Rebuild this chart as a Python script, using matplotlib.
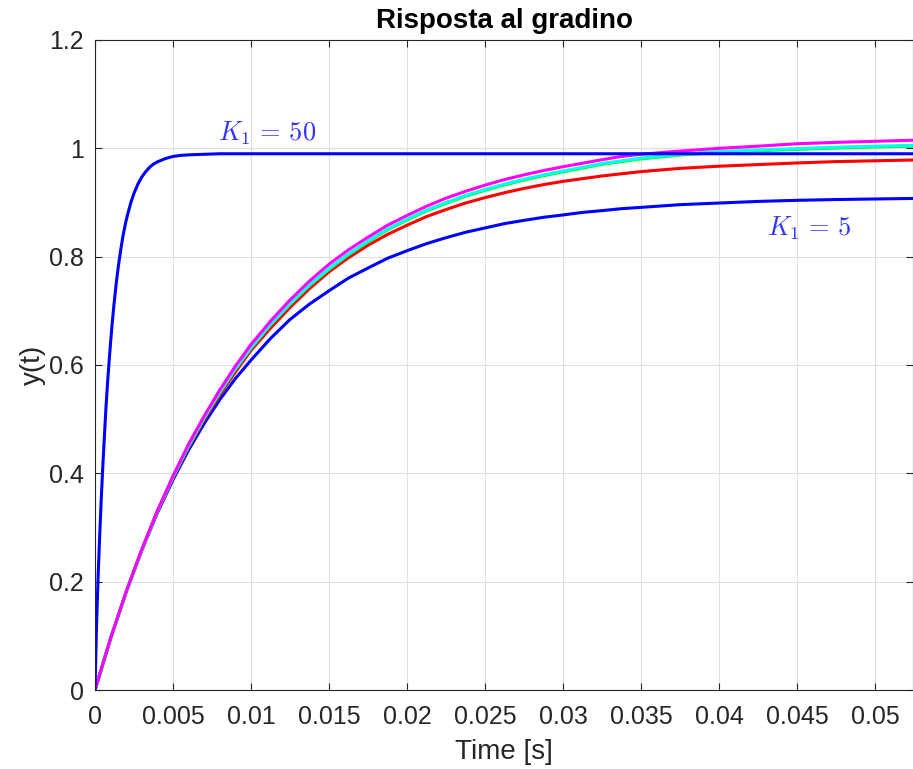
import matplotlib
matplotlib.use("Agg")
import matplotlib.pyplot as plt

# tempi di campionamento
t_slow = [0, 0.001, 0.002, 0.003, 0.004, 0.005, 0.006, 0.007, 0.008, 0.009, 0.010,
          0.01125, 0.0125, 0.01375, 0.015, 0.01625, 0.0175, 0.01875, 0.020, 0.02125,
          0.0225, 0.02375, 0.025, 0.02625, 0.0275, 0.02875, 0.030, 0.03125, 0.0325,
          0.03375, 0.035, 0.0375, 0.040, 0.0425, 0.045, 0.0475, 0.050, 0.0525]

y_k5 = [0, 0.096, 0.181, 0.258, 0.327, 0.388, 0.443, 0.492, 0.536, 0.575, 0.609,
        0.649, 0.684, 0.7125, 0.737, 0.7605, 0.779, 0.797, 0.811, 0.824,
        0.835, 0.845, 0.853, 0.861, 0.867, 0.8727, 0.877, 0.8817, 0.885,
        0.8886, 0.891, 0.896, 0.899, 0.902, 0.904, 0.9055, 0.9065, 0.9075]

y_red = [0, 0.095, 0.181, 0.258, 0.329, 0.391, 0.448, 0.499, 0.545, 0.587, 0.627,
         0.668, 0.706, 0.741, 0.772, 0.798, 0.821, 0.841, 0.858, 0.874,
         0.887, 0.899, 0.909, 0.918, 0.926, 0.933, 0.939, 0.944, 0.949,
         0.953, 0.957, 0.963, 0.967, 0.970, 0.973, 0.9755, 0.977, 0.9785]

y_green = [0, 0.095, 0.181, 0.259, 0.330, 0.393, 0.450, 0.502, 0.549, 0.592, 0.631,
           0.674, 0.712, 0.7465, 0.7765, 0.8035, 0.8275, 0.8495, 0.8675, 0.8845,
           0.8985, 0.9115, 0.9225, 0.9325, 0.9415, 0.9495, 0.9565, 0.9635, 0.9705,
           0.9755, 0.9805, 0.9875, 0.9925, 0.9955, 0.998, 1.0005, 1.0025, 1.004]

y_cyan = [0, 0.095, 0.181, 0.259, 0.330, 0.393, 0.451, 0.503, 0.550, 0.593, 0.632,
          0.675, 0.713, 0.748, 0.778, 0.805, 0.829, 0.851, 0.869, 0.886,
          0.900, 0.913, 0.924, 0.934, 0.943, 0.951, 0.958, 0.965, 0.972,
          0.977, 0.982, 0.989, 0.994, 0.997, 0.9995, 1.002, 1.004, 1.0055]

y_mag = [0, 0.0952, 0.1815, 0.260, 0.331, 0.395, 0.454, 0.506, 0.554, 0.598, 0.638,
         0.681, 0.720, 0.755, 0.786, 0.8126, 0.836, 0.858, 0.876, 0.893,
         0.908, 0.9206, 0.932, 0.9423, 0.951, 0.959, 0.966, 0.9725, 0.979,
         0.985, 0.989, 0.995, 1.000, 1.004, 1.0085, 1.011, 1.013, 1.015]

t_fast = [0, 0.0001, 0.0002, 0.0003, 0.0004, 0.0005, 0.0006, 0.0007, 0.0008, 0.0009,
          0.001, 0.0011, 0.0012, 0.00135, 0.0015, 0.00165, 0.0018, 0.00195, 0.0021,
          0.0023, 0.0025, 0.00275, 0.003, 0.00325, 0.0035, 0.00375, 0.004, 0.0045,
          0.005, 0.0055, 0.006, 0.007, 0.008, 0.010, 0.0525]
y_k50 = [0, 0.12, 0.21, 0.285, 0.352, 0.413, 0.467, 0.520, 0.565, 0.605,
         0.642, 0.676, 0.707, 0.748, 0.783, 0.813, 0.839, 0.861, 0.879,
         0.900, 0.917, 0.934, 0.947, 0.957, 0.965, 0.971, 0.975, 0.981,
         0.985, 0.987, 0.988, 0.989, 0.990, 0.990, 0.990]

xticks = [0, 0.005, 0.01, 0.015, 0.02, 0.025, 0.03, 0.035, 0.04, 0.045, 0.05]
xtick_labels = ["0", "0.005", "0.01", "0.015", "0.02", "0.025", "0.03", "0.035", "0.04", "0.045", "0.05"]
yticks = [0, 0.2, 0.4, 0.6, 0.8, 1.0, 1.2]
ytick_labels = ["0", "0.2", "0.4", "0.6", "0.8", "1", "1.2"]

plt.rcParams['font.family'] = ['Liberation Sans', 'DejaVu Sans']
plt.rcParams['mathtext.fontset'] = 'cm'

dark = '#262626'
fig = plt.figure(figsize=(9.13, 7.69), dpi=100)
ax = fig.add_axes([95/913, 79/769, 818/913, 650/769])

lw = 2.2
ax.plot(t_slow, y_k5, color=(0, 0, 1), lw=lw)
ax.plot(t_slow, y_red, color=(1, 0, 0), lw=lw)
ax.plot(t_slow, y_green, color=(0, 1, 0), lw=lw)
ax.plot(t_slow, y_cyan, color=(0, 1, 1), lw=lw)
ax.plot(t_slow, y_mag, color=(1, 0, 1), lw=lw)
ax.plot(t_fast, y_k50, color=(0, 0, 1), lw=lw)

ax.text(0.0079, 1.027, r'$K_1\,=\,50$', color=(0.2, 0.2, 1), fontsize=19, va='center', ha='left')
ax.text(0.0431, 0.852, r'$K_1\,=\,5$', color=(0.2, 0.2, 1), fontsize=19, va='center', ha='left')

ax.set_xlim(0, 0.05244)
ax.set_ylim(0, 1.2)
ax.set_xticks(xticks)
ax.set_xticklabels(xtick_labels)
ax.set_yticks(yticks)
ax.set_yticklabels(ytick_labels)
ax.grid(True, color='#dfdfdf', lw=0.8)
ax.set_axisbelow(True)
for s in ax.spines.values():
    s.set_color(dark)
    s.set_linewidth(0.8)
ax.tick_params(direction='in', top=True, right=True, length=5, width=0.8,
               colors=dark, labelsize=18)
ax.tick_params(axis='x', pad=11)
ax.tick_params(axis='y', pad=8)

ax.set_xlabel('Time [s]', fontsize=20, color=dark, labelpad=7)
ax.set_ylabel('y(t)', fontsize=20, color=dark, labelpad=2)
ax.set_title('Risposta al gradino', fontsize=20, fontweight='bold', color='black', pad=9)

fig.savefig('out.png', dpi=100)
